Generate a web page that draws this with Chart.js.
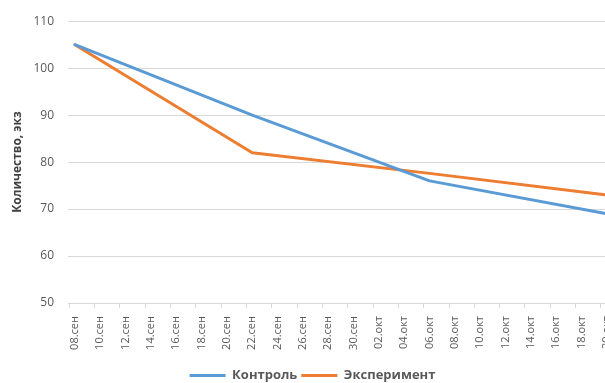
<!DOCTYPE html>
<html>
<head>
<meta charset="utf-8">
<script src="https://cdn.jsdelivr.net/npm/chart.js@4.4.1/dist/chart.umd.min.js"></script>
<style>
  html, body { margin: 0; padding: 0; background: #fff; }
  #wrap { width: 605px; height: 383px; overflow: hidden; position: relative; }
  canvas { display: block; }
</style>
</head>
<body>
<div id="wrap"><canvas id="c" width="625" height="383"></canvas></div>
<script>
// Axis labels, one every two days starting 08.сен
const dayLabels = ['08.сен','10.сен','12.сен','14.сен','16.сен','18.сен','20.сен','22.сен','24.сен','26.сен',
  '28.сен','30.сен','02.окт','04.окт','06.окт','08.окт','10.окт','12.окт','14.окт','16.окт','18.окт','20.окт'];
// Counting days (days after 08.сен)
const sampleDays = [0, 14, 28, 42];
const controlValues = [105, 90, 76, 69];
const experimentValues = [105, 82, 77.6, 73];
const yTicks = [50, 60, 70, 80, 90, 100, 110];

const FONT = '"Open Sans", "DejaVu Sans", sans-serif';
const GRID = '#d9d9d9';
const TEXT = '#595959';

const toPoints = vals => sampleDays.map((d, i) => ({ x: d, y: vals[i] }));

// Small tick marks below the date axis, placed at day boundaries
const boundaryTicks = {
  id: 'boundaryTicks',
  afterDraw(chart) {
    const xs = chart.scales.x;
    const ctx = chart.ctx;
    const y0 = chart.chartArea.bottom;
    ctx.save();
    ctx.strokeStyle = GRID;
    ctx.lineWidth = 1;
    dayLabels.forEach((_, i) => {
      const px = Math.round(xs.getPixelForValue(i * 2 - 0.5)) + 0.5;
      ctx.beginPath();
      ctx.moveTo(px, y0);
      ctx.lineTo(px, y0 + 5);
      ctx.stroke();
    });
    ctx.restore();
  }
};

new Chart(document.getElementById('c'), {
  type: 'line',
  data: {
    datasets: [
      { label: 'Контроль', data: toPoints(controlValues), borderColor: '#5b9bd5', backgroundColor: '#5b9bd5',
        borderWidth: 3, pointRadius: 0, tension: 0, borderCapStyle: 'round', borderJoinStyle: 'round' },
      { label: 'Эксперимент', data: toPoints(experimentValues), borderColor: '#ed7d31', backgroundColor: '#ed7d31',
        borderWidth: 3, pointRadius: 0, tension: 0, borderCapStyle: 'round', borderJoinStyle: 'round' }
    ]
  },
  options: {
    responsive: false,
    animation: false,
    layout: { padding: { top: 14, left: 0, right: 0, bottom: -9 } },
    plugins: {
      tooltip: { enabled: false },
      legend: {
        position: 'bottom',
        labels: {
          usePointStyle: true,
          pointStyle: 'line',
          pointStyleWidth: 36,
          boxHeight: 11,
          padding: 4,
          color: TEXT,
          font: { family: FONT, size: 13, weight: 'bold' }
        }
      }
    },
    scales: {
      x: {
        type: 'linear',
        min: -0.55,
        max: 43.15,
        afterBuildTicks(scale) {
          scale.ticks = dayLabels.map((_, i) => ({ value: i * 2 }));
        },
        afterFit(scale) { scale.height = 62; },
        grid: { display: false },
        border: { display: true, color: GRID, width: 1 },
        ticks: {
          autoSkip: false,
          minRotation: 90,
          maxRotation: 90,
          padding: 5,
          color: TEXT,
          font: { family: FONT, size: 11 },
          callback: (v, i) => dayLabels[i]
        }
      },
      y: {
        min: 50,
        max: 110,
        afterBuildTicks(scale) {
          scale.ticks = yTicks.map(v => ({ value: v }));
        },
        afterFit(scale) { scale.width = 68; },
        grid: { color: GRID, drawTicks: false, lineWidth: 1 },
        border: { display: false },
        ticks: {
          padding: 14,
          color: TEXT,
          font: { family: FONT, size: 12 }
        },
        title: {
          display: true,
          text: 'Количество, экз',
          color: '#404040',
          padding: { top: 10, bottom: 0 },
          font: { family: FONT, size: 12, weight: 'bold' }
        }
      }
    }
  },
  plugins: [boundaryTicks]
});
</script>
</body>
</html>
